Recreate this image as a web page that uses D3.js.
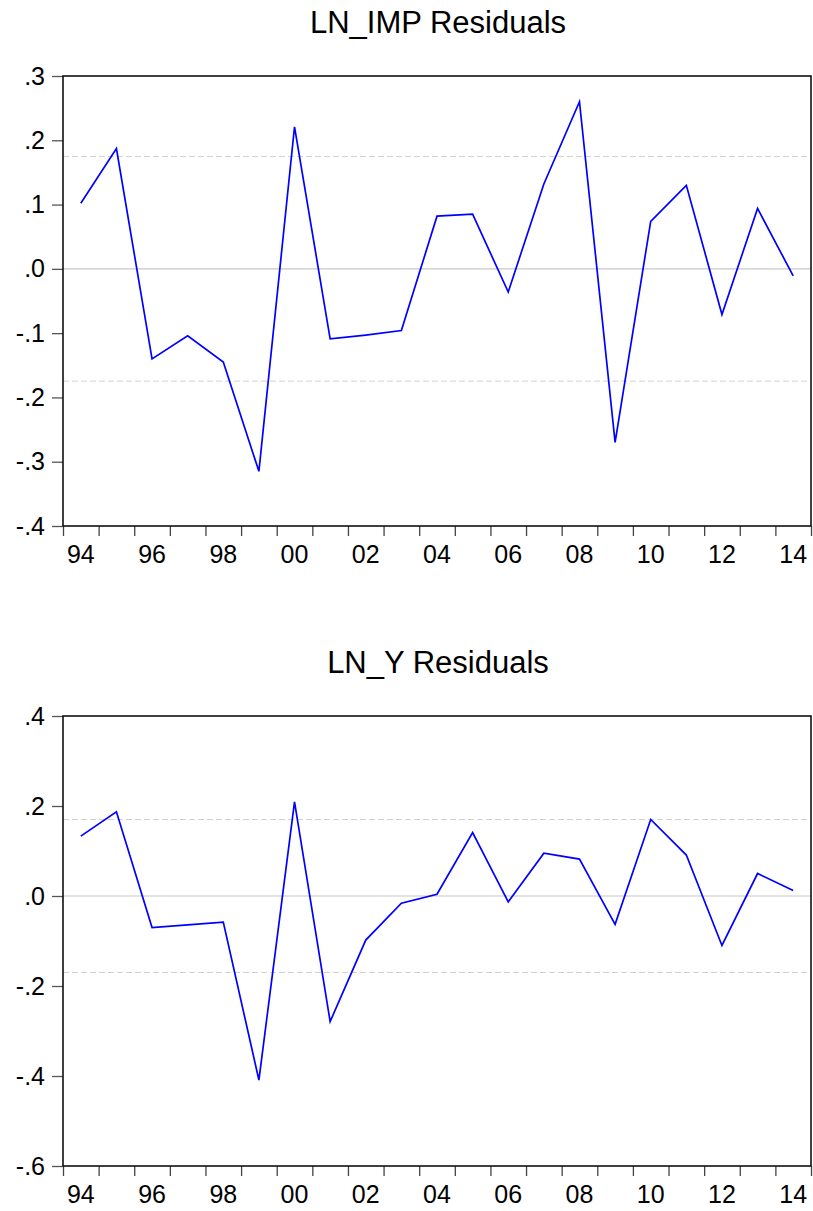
<!DOCTYPE html>
<html><head><meta charset="utf-8">
<script src="https://cdn.jsdelivr.net/npm/d3@7"></script>
<style>body{margin:0;background:#fff;} svg{display:block;}</style>
</head><body>
<script>
const years = d3.range(1994, 2015);
const lnImpResid = [0.102, 0.187, -0.140, -0.104, -0.145, -0.315, 0.221, -0.109, -0.103, -0.096,
  0.082, 0.085, -0.036, 0.132, 0.260, -0.270, 0.074, 0.130, -0.071, 0.094, -0.011];
const lnYResid = [0.133, 0.187, -0.070, -0.064, -0.058, -0.409, 0.209, -0.279, -0.098, -0.016,
  0.004, 0.141, -0.013, 0.095, 0.082, -0.063, 0.170, 0.091, -0.110, 0.050, 0.012];
const titles = ["LN_IMP Residuals", "LN_Y Residuals"];
const yTicksTop = [-0.4, -0.3, -0.2, -0.1, 0.0, 0.1, 0.2, 0.3];
const yTicksBottom = [-0.6, -0.4, -0.2, 0.0, 0.2, 0.4];
const bandTop = 0.1747, bandBottom = 0.17;
const xLabelYears = d3.range(1994, 2015, 2);

const W = 813, H = 1211;
const svg = d3.select("body").append("svg").attr("width", W).attr("height", H);
const fmt = v => {
  const a = Math.abs(v).toFixed(1).replace(/^0\./, ".");
  return (v < -1e-9 ? "-" : "") + a;
};
const FONT = "Liberation Sans, Arial, sans-serif";

function panel(cfg) {
  const {title, data, yDomain, yTicks, band, top, bottom, titleY} = cfg;
  const left = 63, right = 811;
  const x = d3.scaleLinear().domain([1994, 2015]).range([left, right]);
  const y = d3.scaleLinear().domain(yDomain).range([bottom, top]);
  const g = svg.append("g");

  g.append("text").attr("x", (left + right) / 2 + 1).attr("y", titleY)
    .attr("text-anchor", "middle").attr("font-family", FONT)
    .attr("font-size", 31).attr("fill", "#000").text(title);

  // reference lines
  g.append("line").attr("x1", left).attr("x2", right).attr("y1", y(0)).attr("y2", y(0))
    .attr("stroke", "#c8c8c8").attr("stroke-width", 1.2);
  [band, -band].forEach(b => {
    g.append("line").attr("x1", left).attr("x2", right).attr("y1", y(b)).attr("y2", y(b))
      .attr("stroke", "#d2d2d2").attr("stroke-width", 1).attr("stroke-dasharray", "6,3");
  });

  // y axis
  const yAxis = d3.axisLeft(y).tickValues(yTicks).tickFormat(fmt).tickSize(11).tickPadding(7);
  const ya = g.append("g").attr("transform", `translate(${left},0)`).call(yAxis);
  ya.select(".domain").remove();
  ya.selectAll(".tick line").attr("stroke", "#555").attr("stroke-width", 1.3);
  ya.selectAll(".tick text").attr("font-family", FONT)
    .attr("font-size", 25).attr("fill", "#000");

  // x axis ticks
  const xAxis = d3.axisBottom(x).tickValues(d3.range(1994, 2016)).tickFormat("").tickSize(10);
  const xa = g.append("g").attr("transform", `translate(0,${bottom})`).call(xAxis);
  xa.select(".domain").remove();
  xa.selectAll(".tick line").attr("stroke", "#444").attr("stroke-width", 1.3);
  g.selectAll(".xlab").data(xLabelYears).join("text")
    .attr("x", d => x(d + 0.5)).attr("y", bottom + 37)
    .attr("text-anchor", "middle").attr("font-family", FONT)
    .attr("font-size", 25).attr("fill", "#000")
    .text(d => String(d).slice(2));

  // data line
  const line = d3.line().x((d, i) => x(years[i] + 0.5)).y(d => y(d));
  g.append("path").datum(data).attr("d", line).attr("fill", "none")
    .attr("stroke", "#0000ff").attr("stroke-width", 1.7).attr("stroke-linejoin", "miter");

  // frame
  g.append("rect").attr("x", left).attr("y", top).attr("width", right - left).attr("height", bottom - top)
    .attr("fill", "none").attr("stroke", "#111").attr("stroke-width", 1.6);
}

panel({title: titles[0], data: lnImpResid, yDomain: [-0.4, 0.3], yTicks: yTicksTop,
  band: bandTop, top: 76, bottom: 526, titleY: 33});
panel({title: titles[1], data: lnYResid, yDomain: [-0.6, 0.4], yTicks: yTicksBottom,
  band: bandBottom, top: 716, bottom: 1166, titleY: 673});
</script>
</body></html>
